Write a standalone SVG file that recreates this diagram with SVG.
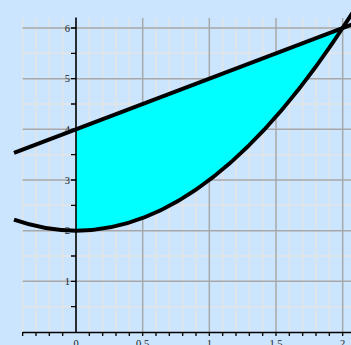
<svg xmlns="http://www.w3.org/2000/svg" width="351" height="345" viewBox="0 0 351 345">
<style>
.minor{stroke:#e4e4e4;stroke-width:1.5;fill:none}
.major{stroke:#a8a8a8;stroke-width:1.5;fill:none}
.axis{stroke:#000;stroke-width:1.6;fill:none}
.tick{stroke:#000;stroke-width:1.3;fill:none}
.curve{stroke:#000;stroke-width:4;fill:none}
.lbl{font-family:"Liberation Serif","DejaVu Serif",serif;font-size:10.5px;fill:#222}
</style>
<rect x="0" y="0" width="351" height="345" fill="#cce5ff"/>
<g id="grid">
<path class="minor" d="M22.67,18V332M36,18V332M49.33,18V332M62.67,18V332M89.33,18V332M102.67,18V332M116,18V332M129.33,18V332M156,18V332M169.33,18V332M182.67,18V332M196,18V332M222.67,18V332M236,18V332M249.33,18V332M262.67,18V332M289.33,18V332M302.67,18V332M316,18V332M329.33,18V332"/>
<path class="minor" d="M22.67,306.67H351M22.67,256H351M22.67,205.33H351M22.67,154.67H351M22.67,104H351M22.67,53.33H351"/>
<path class="major" d="M142.67,18V332M209.33,18V332M276,18V332M342.67,18V332"/>
<path class="major" d="M22.67,281.33H351M22.67,230.67H351M22.67,180H351M22.67,129.33H351M22.67,78.67H351M22.67,28H351"/>
</g>
<g id="region">
<path d="M76,129.33 L342.67,28 Q209.33,230.67 76,230.67 Z" fill="#00ffff"/>
</g>
<g id="axes">
<path class="axis" d="M22.67,332.5H351M76,17.5V332.5"/>
<path class="tick" d="M22.67,332V336M36,332V336M49.33,332V336M62.67,332V336M89.33,332V336M102.67,332V336M116,332V336M129.33,332V336M142.67,332V336M156,332V336M169.33,332V336M182.67,332V336M196,332V336M209.33,332V336M222.67,332V336M236,332V336M249.33,332V336M262.67,332V336M276,332V336M289.33,332V336M302.67,332V336M316,332V336M329.33,332V336M342.67,332V336"/>
<path class="tick" d="M71,306.67H76M71,281.33H76M71,256H76M71,230.67H76M71,205.33H76M71,180H76M71,154.67H76M71,129.33H76M71,104H76M71,78.67H76M71,53.33H76M71,28H76"/>
<g class="lbl" text-anchor="end">
<text x="70" y="285">1</text>
<text x="70" y="234.4">2</text>
<text x="70" y="183.7">3</text>
<text x="70" y="133">4</text>
<text x="70" y="82.4">5</text>
<text x="70" y="31.7">6</text>
</g>
<g class="lbl" text-anchor="middle">
<text x="76" y="347">0</text>
<text x="142.67" y="347">0.5</text>
<text x="209.33" y="347">1</text>
<text x="276" y="347">1.5</text>
<text x="342.67" y="347">2</text>
</g>
</g>
<g id="curves">
<path id="line" class="curve" d="M14,152.9 L356,22.9"/>
<path id="parabola" class="curve" d="M14,219.7 Q185,280.14 356,7.2"/>
</g>
</svg>
